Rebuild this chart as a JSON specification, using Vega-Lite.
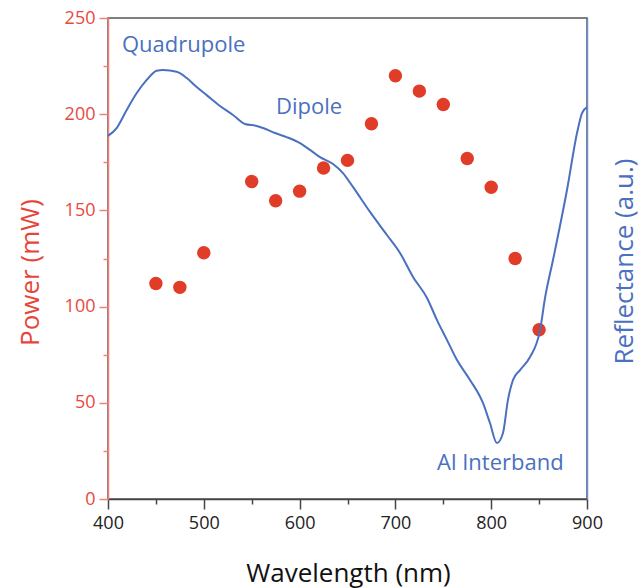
{
  "$schema": "https://vega.github.io/schema/vega-lite/v6.json",
  "width": 479,
  "height": 481,
  "autosize": {"type": "none"},
  "padding": {"left": 108, "top": 18, "right": 55, "bottom": 89},
  "config": {
    "font": "Open Sans",
    "view": {"stroke": "#555555", "strokeWidth": 1.5},
    "axis": {"grid": false, "titleFontWeight": "normal"}
  },
  "datasets": {
    "power": [
      {"wavelength": 450, "power": 112},
      {"wavelength": 475, "power": 110},
      {"wavelength": 500, "power": 128},
      {"wavelength": 550, "power": 165},
      {"wavelength": 575, "power": 155},
      {"wavelength": 600, "power": 160},
      {"wavelength": 625, "power": 172},
      {"wavelength": 650, "power": 176},
      {"wavelength": 675, "power": 195},
      {"wavelength": 700, "power": 220},
      {"wavelength": 725, "power": 212},
      {"wavelength": 750, "power": 205},
      {"wavelength": 775, "power": 177},
      {"wavelength": 800, "power": 162},
      {"wavelength": 825, "power": 125},
      {"wavelength": 850, "power": 88}
    ],
    "reflect": [
      {"wavelength": 400, "reflectance": 188.7},
      {"wavelength": 409, "reflectance": 192.8},
      {"wavelength": 419.5, "reflectance": 202.2},
      {"wavelength": 430, "reflectance": 211},
      {"wavelength": 440.4, "reflectance": 217.8},
      {"wavelength": 450.8, "reflectance": 222.6},
      {"wavelength": 457.4, "reflectance": 223},
      {"wavelength": 471.7, "reflectance": 222.1},
      {"wavelength": 482.2, "reflectance": 218.8},
      {"wavelength": 492.6, "reflectance": 214.1},
      {"wavelength": 503, "reflectance": 209.9},
      {"wavelength": 516.9, "reflectance": 204.3},
      {"wavelength": 530.5, "reflectance": 199.6},
      {"wavelength": 543, "reflectance": 194.9},
      {"wavelength": 555.2, "reflectance": 193.9},
      {"wavelength": 561.8, "reflectance": 192.8},
      {"wavelength": 574.3, "reflectance": 190.2},
      {"wavelength": 586.5, "reflectance": 188.1},
      {"wavelength": 600.4, "reflectance": 185},
      {"wavelength": 614, "reflectance": 180.3},
      {"wavelength": 621.3, "reflectance": 177.7},
      {"wavelength": 634.9, "reflectance": 174.1},
      {"wavelength": 645.3, "reflectance": 169.4},
      {"wavelength": 655.7, "reflectance": 162.2},
      {"wavelength": 673.5, "reflectance": 149.2},
      {"wavelength": 691.2, "reflectance": 137.2},
      {"wavelength": 704.8, "reflectance": 127.9},
      {"wavelength": 718.4, "reflectance": 115.4},
      {"wavelength": 733, "reflectance": 104.5},
      {"wavelength": 743.4, "reflectance": 93},
      {"wavelength": 753.9, "reflectance": 82.6},
      {"wavelength": 764.3, "reflectance": 72.2},
      {"wavelength": 777.9, "reflectance": 61.9},
      {"wavelength": 791.4, "reflectance": 49.9},
      {"wavelength": 798.7, "reflectance": 39.5},
      {"wavelength": 806, "reflectance": 29.1},
      {"wavelength": 812.3, "reflectance": 34.3},
      {"wavelength": 817.5, "reflectance": 51.5},
      {"wavelength": 822.8, "reflectance": 61.9},
      {"wavelength": 830.1, "reflectance": 67},
      {"wavelength": 840.5, "reflectance": 73.8},
      {"wavelength": 851, "reflectance": 87.8},
      {"wavelength": 856.2, "reflectance": 104.5},
      {"wavelength": 864.5, "reflectance": 124.2},
      {"wavelength": 879.1, "reflectance": 160.6},
      {"wavelength": 889.6, "reflectance": 190.2},
      {"wavelength": 894.8, "reflectance": 200.6},
      {"wavelength": 900, "reflectance": 203.7}
    ],
    "labels": [
      {"wavelength": 414.6, "reflectance": 236, "label": "Quadrupole"},
      {"wavelength": 575.4, "reflectance": 203.7, "label": "Dipole"},
      {"wavelength": 743.4, "reflectance": 18.7, "label": "Al Interband"}
    ]
  },
  "layer": [
    {
      "data": {"name": "power"},
      "mark": {"type": "circle", "size": 180, "color": "#e03c28", "opacity": 1},
      "encoding": {
        "x": {
          "field": "wavelength", "type": "quantitative",
          "scale": {"domain": [400, 900], "nice": false, "zero": false},
          "axis": {
            "orient": "bottom",
            "values": [400, 500, 600, 700, 800, 900],
            "domainColor": "#444444", "domainWidth": 1.5,
            "tickColor": "#444444", "tickWidth": 1.5, "tickSize": 10,
            "labelFontSize": 18, "labelColor": "#222222", "labelPadding": 5, "labelFlush": false,
            "title": "Wavelength (nm)", "titleFontSize": 26, "titleColor": "#111111",
            "titleX": 240, "titleY": 82, "titleBaseline": "alphabetic", "titleAlign": "center"
          }
        },
        "y": {
          "field": "power", "type": "quantitative",
          "scale": {"domain": [0, 250], "nice": false},
          "axis": {
            "orient": "left",
            "values": [0, 50, 100, 150, 200, 250],
            "domainColor": "#f08078", "domainWidth": 1.5,
            "tickColor": "#f08078", "tickWidth": 1.5, "tickSize": 9,
            "labelFontSize": 18, "labelColor": "#e8493e", "labelPadding": 4,
            "title": "Power (mW)", "titleFontSize": 26, "titleColor": "#e8453a",
            "titleAngle": 270, "titleX": -78, "titleY": 254,
            "titleBaseline": "middle", "titleAlign": "center"
          }
        }
      }
    },
    {
      "data": {"name": "power"},
      "mark": {"type": "point", "opacity": 0},
      "encoding": {
        "x": {
          "field": "wavelength", "type": "quantitative",
          "scale": {"domain": [400, 900], "nice": false, "zero": false},
          "axis": {
            "orient": "bottom",
            "values": [450, 550, 650, 750, 850],
            "domain": false, "labels": false, "title": null,
            "tickColor": "#444444", "tickWidth": 1.5, "tickSize": 5
          }
        },
        "y": {
          "field": "power", "type": "quantitative",
          "scale": {"domain": [0, 250], "nice": false},
          "axis": {
            "orient": "left",
            "values": [25, 75, 125, 175, 225],
            "domain": false, "labels": false, "title": null,
            "tickColor": "#f08078", "tickWidth": 1.5, "tickSize": 5
          }
        }
      }
    },
    {
      "layer": [
        {
          "data": {"name": "reflect"},
          "mark": {"type": "line", "color": "#4a70c0", "strokeWidth": 2, "interpolate": "monotone"},
          "encoding": {
            "x": {
              "field": "wavelength", "type": "quantitative",
              "scale": {"domain": [400, 900], "nice": false, "zero": false},
              "axis": null
            },
            "y": {
              "field": "reflectance", "type": "quantitative",
              "scale": {"domain": [0, 250], "nice": false},
              "axis": {
                "orient": "right",
                "domainColor": "#6d8fd0", "domainWidth": 1.5,
                "ticks": false, "labels": false,
                "title": "Reflectance (a.u.)", "titleFontSize": 26, "titleColor": "#4a70c0",
                "titleAngle": 270, "titleX": 37, "titleY": 243,
                "titleBaseline": "middle", "titleAlign": "center"
              }
            }
          }
        },
        {
          "data": {"name": "labels"},
          "mark": {"type": "text", "align": "left", "baseline": "middle", "fontSize": 22, "color": "#4a70c0"},
          "encoding": {
            "x": {"field": "wavelength", "type": "quantitative"},
            "y": {"field": "reflectance", "type": "quantitative"},
            "text": {"field": "label"}
          }
        }
      ]
    }
  ],
  "resolve": {
    "scale": {"x": "independent", "y": "independent"},
    "axis": {"x": "independent", "y": "independent"}
  }
}
